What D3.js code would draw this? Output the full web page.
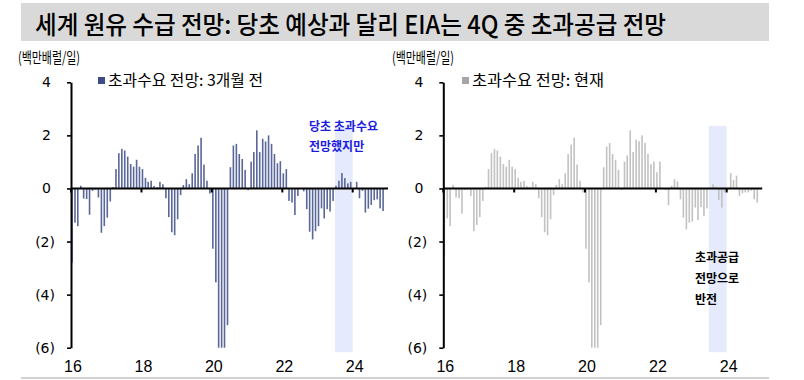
<!DOCTYPE html>
<html><head><meta charset="utf-8">
<script src="https://cdn.jsdelivr.net/npm/d3@7"></script>
<style>body{margin:0;background:#fff}</style>
</head><body><svg id="c" width="804" height="380"></svg>
<script>
// ---------- data ----------
const startMonth = "2016-01";
const endMonth = "2024-11";
const yTicks = [4, 2, 0, -2, -4, -6];
const xTickYears = [2016, 2018, 2020, 2022, 2024];
const xTickLabels = ["16", "18", "20", "22", "24"];
const bandRange = ["2023-07", "2024-01"];
const bandValues = [2.36, -6.17];

const before3m = [
  -2.80, -1.29, -1.42, 0.10, -0.38, -0.40, -0.99, -0.09, -0.05, -0.34, -1.67, -1.42,
  -1.10, -0.49, 0.05, 0.73, 1.33, 1.49, 1.43, 1.20, 0.92, 0.82, 1.08, 0.82,
  0.73, 0.40, 0.25, 0.29, 0.09, 0.05, 0.25, 0.16, -0.37, -1.08, -1.65, -1.76,
  -1.16, -0.25, 0.13, 0.35, 0.16, 0.57, 1.30, 1.62, 1.91, 0.90, 0.29, -0.19,
  -2.27, -3.54, -6.00, -6.00, -6.00, -5.15, 0.80, 1.62, 1.68, 1.30, 1.11, 0.70,
  -0.06, 1.01, 1.37, 2.19, 1.37, 1.87, 1.77, 2.00, 1.68, 1.30, 0.95, 1.03,
  0.57, 0.73, -0.47, -0.53, -1.00, -0.28, 0.00, -0.11, -0.78, -1.63, -1.92, -1.61,
  -1.42, -0.75, -1.13, -0.78, -0.87, -0.47, 0.10, 0.29, 0.58, 0.39, 0.19, 0.25,
  0.00, 0.25, -0.37, -0.09, -0.91, -0.76, -0.62, -0.44, -0.41, -0.75, -0.85
];
const current = [
  -2.56, -1.13, -1.42, 0.14, -0.34, -0.37, -0.95, -0.06, -0.03, -0.28, -1.61, -1.38,
  -1.08, -0.47, 0.06, 0.73, 1.33, 1.49, 1.43, 1.20, 0.92, 0.82, 1.08, 0.82,
  0.73, 0.40, 0.25, 0.29, 0.09, 0.06, 0.25, 0.16, -0.37, -1.08, -1.65, -1.76,
  -1.16, -0.25, 0.13, 0.35, 0.16, 0.57, 1.30, 1.65, 1.91, 0.90, 0.29, -0.15,
  -2.27, -3.54, -6.00, -6.00, -6.00, -5.15, 0.80, 1.58, 1.71, 1.30, 1.08, 0.70,
  -0.06, 1.01, 1.24, 2.19, 1.37, 1.84, 1.78, 2.00, 1.72, 1.30, 0.92, 1.01,
  0.61, 1.01, 0.00, -0.06, -0.63, 0.10, 0.35, 0.27, -0.41, -1.10, -1.54, -1.29,
  -1.25, -0.72, -1.19, -0.70, -1.04, -0.75, 0.00, 0.16, 0.06, -0.44, -0.72, -0.15,
  0.00, 0.58, 0.32, 0.48, -0.28, -0.19, -0.15, -0.15, -0.09, -0.41, -0.53
];

const titleText = "세계 원유 수급 전망: 당초 예상과 달리 EIA는 4Q 중 초과공급 전망";
const unitText = "(백만배럴/일)";
const legendLeft = "초과수요 전망: 3개월 전";
const legendRight = "초과수요 전망: 현재";
const noteLeft = ["당초 초과수요", "전망했지만"];
const noteRight = ["초과공급", "전망으로", "반전"];

// ---------- drawing ----------
const parseM = d3.timeParse("%Y-%m");
const months = d3.timeMonths(parseM(startMonth), d3.timeMonth.offset(parseM(endMonth), 1));
const svg = d3.select("#c");
const KR = "'Noto Sans CJK KR', sans-serif";
const NUM = "'DejaVu Sans', Verdana, sans-serif";
const NARROW = "'Liberation Sans Narrow', 'Arial Narrow', 'Liberation Sans', sans-serif";

// title
svg.append("rect").attr("x", 21).attr("y", 3).attr("width", 748).attr("height", 38).attr("fill", "#d9d9d9");
svg.append("text").attr("x", 35).attr("y", 34).text(titleText)
  .attr("font-family", KR).attr("font-size", 25).attr("font-weight", 500).attr("fill", "#000")
  .attr("textLength", 631).attr("lengthAdjust", "spacingAndGlyphs");

// bottom rule
svg.append("line").attr("x1", 21).attr("x2", 769).attr("y1", 378).attr("y2", 378)
  .attr("stroke", "#a6a6a6").attr("stroke-width", 1);

const y = d3.scaleLinear().domain([-6, 4]).range([347.7, 82.3]);

function panel(cfg) {
  const x = d3.scaleTime().domain([new Date(2016, 0, 1), new Date(2024, 0, 1)]).range([cfg.axisX, cfg.x24]);
  const g = svg.append("g");
  const data = months.map((m, i) => ({ date: m, v: cfg.values[i] }));

  // unit label
  g.append("text").attr("x", cfg.unitX).attr("y", 63).text(unitText)
    .attr("font-family", KR).attr("font-size", 15).attr("fill", "#000")
    .attr("textLength", 62).attr("lengthAdjust", "spacingAndGlyphs");

  // legend
  g.append("rect").attr("x", cfg.legX).attr("y", 77).attr("width", 7).attr("height", 7).attr("fill", cfg.legColor);
  g.append("text").attr("x", cfg.legX + 10).attr("y", 85.5).text(cfg.legend)
    .attr("font-family", KR).attr("font-size", 15.5).attr("fill", "#000")
    .attr("textLength", cfg.legLen).attr("lengthAdjust", "spacingAndGlyphs");

  // highlight band
  const b0 = parseM(bandRange[0]), b1 = parseM(bandRange[1]);
  g.append("rect").attr("x", x(b0)).attr("width", x(b1) - x(b0))
    .attr("y", y(bandValues[0])).attr("height", y(bandValues[1]) - y(bandValues[0]))
    .attr("fill", "#e5eafc");

  // bars
  g.selectAll("rect.bar").data(data.filter(d => d.v !== 0)).join("rect").attr("class", "bar")
    .attr("x", d => x(d.date) + 0.2).attr("width", 1.6)
    .attr("y", d => y(Math.max(0, d.v)))
    .attr("height", d => Math.abs(y(d.v) - y(0)))
    .attr("fill", cfg.barColor);

  // y axis
  const ya = d3.axisLeft(y).tickValues(yTicks).tickSize(4).tickSizeOuter(0).tickPadding(12)
    .tickFormat(d => d < 0 ? `(${-d})` : `${d}`);
  const yg = g.append("g").attr("transform", `translate(${cfg.axisX},0)`).call(ya);
  yg.select(".domain").attr("stroke", "#000").attr("stroke-width", 2);
  yg.selectAll(".tick line").attr("stroke", "#000").attr("stroke-width", 1.6);
  yg.selectAll(".tick text").attr("font-family", NUM).attr("font-size", 14).attr("fill", "#000")
    .attr("dx", d => d < 0 ? 0 : -4);

  // zero line + x ticks
  const xEnd = x(new Date(2025, 0, 1));
  g.append("line").attr("x1", cfg.axisX).attr("x2", xEnd).attr("y1", y(0)).attr("y2", y(0))
    .attr("stroke", "#000").attr("stroke-width", 2);
  xTickYears.forEach((yr, i) => {
    const px = x(new Date(yr, 0, 1));
    g.append("line").attr("x1", px).attr("x2", px).attr("y1", y(0)).attr("y2", y(0) + 4)
      .attr("stroke", "#000").attr("stroke-width", 2);
    g.append("text").attr("x", px + 2).attr("y", 372).attr("text-anchor", "middle")
      .text(xTickLabels[i]).attr("font-family", NARROW).attr("font-size", 16).attr("fill", "#000");
  });

  // note
  g.selectAll("text.note").data(cfg.note).join("text").attr("class", "note")
    .attr("x", cfg.noteX).attr("y", (d, i) => cfg.noteY + i * cfg.noteDy).text(d => d)
    .attr("font-family", KR).attr("font-size", 12).attr("font-weight", 700).attr("fill", cfg.noteColor);
}

panel({ axisX: 71, x24: 352.7, values: before3m, barColor: "#5a6799", legColor: "#3f4b86",
  legend: legendLeft, legLen: 155, legX: 98, unitX: 18, note: noteLeft, noteX: 309, noteY: 131, noteDy: 20, noteColor: "#1c1ce0" });
panel({ axisX: 443.3, x24: 726.7, values: current, barColor: "#c2c2c2", legColor: "#a6a6a6",
  legend: legendRight, legLen: 132, legX: 462, unitX: 392, note: noteRight, noteX: 695, noteY: 262, noteDy: 21, noteColor: "#000" });
</script>
</body></html>
